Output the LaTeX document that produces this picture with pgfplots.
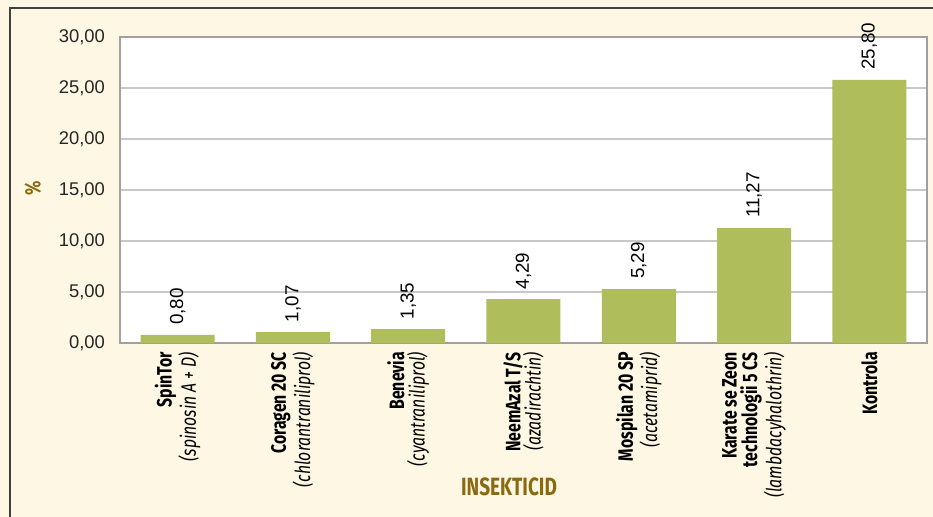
\documentclass[border=0pt]{standalone}
\usepackage{fontspec}
\setmainfont{Liberation Sans}
\newfontfamily\cond[FakeStretch=0.76]{Fira Sans}
\usepackage{pgfplots}
\pgfplotsset{compat=1.18}

\definecolor{bgcream}{HTML}{FEF7E3}
\definecolor{barg}{HTML}{AFBD5B}
\definecolor{gold}{HTML}{8A6A10}
\definecolor{gridc}{HTML}{C8C8C8}
\definecolor{framec}{HTML}{A0A0A0}

\begin{document}
\begin{tikzpicture}[x=0.5pt,y=0.5pt]
	% background panel and its left/top rule
	\fill[bgcream] (0,0) rectangle (933,517);
	\draw[black!75, line width=1.2pt] (10,0) -- (10,509) -- (933,509);
	\begin{axis}[
		at={(60pt,87pt)}, anchor=south west,
		scale only axis,
		width=403.5pt, height=153pt,
		ybar, bar width=37pt,
		xmin=-0.5, xmax=6.5,
		ymin=0, ymax=30,
		ytick={0,5,...,30},
		xtick=data,
		xticklabels={
			{\textbf{SpinTor}\\\textit{(spinosin A + D)}},
			{\textbf{Coragen 20 SC}\\\textit{(chlorantraniliprol)}},
			{\textbf{Benevia}\\\textit{(cyantraniliprol)}},
			{\textbf{NeemAzal T/S}\\\textit{(azadirachtin)}},
			{\textbf{Mospilan 20 SP}\\\textit{(acetamiprid)}},
			{\textbf{Karate se Zeon}\\\textbf{technologii 5 CS}\\\textit{(lambdacyhalothrin)}},
			{\textbf{Kontrola}}},
		xticklabel style={rotate=90, anchor=east, align=right, font=\cond\fontsize{10.4}{10.2}\selectfont, text=black, xshift=-1pt},
		yticklabel style={font=\fontsize{9.2}{11}\selectfont, text=black!85, xshift=-4pt},
		/pgf/number format/.cd, use comma, fixed, fixed zerofill, precision=2, assume math mode=true,
		/pgfplots/.cd,
		major tick length=0pt,
		ymajorgrids, grid style={gridc, line width=0.9pt},
		axis line style={framec, line width=0.9pt},
		axis background/.style={fill=white},
		nodes near coords,
		nodes near coords style={rotate=90, anchor=west, font=\fontsize{9.4}{11}\selectfont, text=black, xshift=1.5pt,
			/pgf/number format/.cd, use comma, fixed, fixed zerofill, precision=2, assume math mode=true},
		clip=false,
		]
		\addplot[fill=barg, draw=none] coordinates {(0,0.80) (1,1.07) (2,1.35) (3,4.29) (4,5.29) (5,11.27) (6,25.80)};
	\end{axis}
	\node[rotate=90, text=gold, font=\cond\bfseries\fontsize{11}{12}\selectfont] at (33,329) {\%};
	\node[text=gold, font=\cond\bfseries\fontsize{12.5}{12}\selectfont] at (509,30) {INSEKTICID};
	\pgfresetboundingbox
	\useasboundingbox (0,0) rectangle (933,517);
\end{tikzpicture}
\end{document}
